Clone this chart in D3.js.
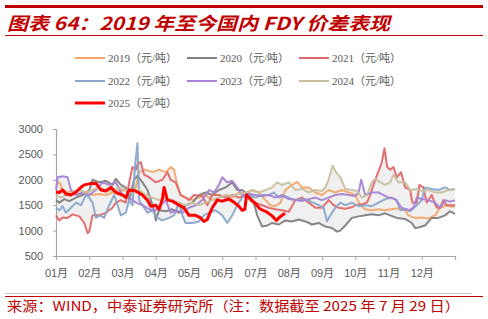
<!DOCTYPE html>
<html><head><meta charset="utf-8">
<script src="https://cdn.jsdelivr.net/npm/d3@7"></script>
<style>body{margin:0;background:#fff;}svg{display:block;}</style>
</head><body>
<svg id="c" width="488" height="319"></svg>
<script>
const monthLabels = ["01月","02月","03月","04月","05月","06月","07月","08月","09月","10月","11月","12月"];
const yTicks = [500,1000,1500,2000,2500,3000];
const years = ["2019","2020","2021","2022","2023","2024","2025"];
const colors = ["#f2a66a","#808080","#e06868","#8aa6cc","#a783d4","#c8c09e","#ff0000"];

// [month position (0 = 1 Jan, 12 = 31 Dec), spread in yuan/ton]
const s2019 = [[0,1900],[0.1,1950],[0.2,1800],[0.35,1750],[0.5,1780],[0.7,1720],[0.9,1750],[1.1,1700],[1.3,1720],[1.5,1700],[1.7,1750],[1.9,1780],[2.1,1800],[2.3,1760],[2.4,1850],[2.5,2150],[2.7,2200],[2.9,2150],[3.1,2200],[3.3,2150],[3.45,2250],[3.55,2200],[3.65,1900],[3.75,1700],[3.9,1650],[4.1,1600],[4.3,1650],[4.5,1700],[4.7,1600],[4.9,1650],[5.1,1700],[5.3,1650],[5.5,1750],[5.7,1700],[5.9,1800],[6.1,1750],[6.3,1600],[6.45,1500],[6.6,1480],[6.75,1550],[6.9,1800],[7.1,1900],[7.25,1960],[7.4,1850],[7.6,1850],[7.8,1750],[8.0,1700],[8.2,1800],[8.4,1750],[8.6,1800],[8.8,1750],[9.0,1700],[9.15,1500],[9.3,1420],[9.5,1400],[9.7,1420],[9.9,1400],[10.1,1420],[10.3,1440],[10.5,1400],[10.6,1300],[10.8,1250],[11.0,1260],[11.2,1240],[11.4,1300],[11.55,1450],[11.75,1500],[11.9,1470],[12,1480]];
const s2020 = [[0,1600],[0.1,1550],[0.25,1620],[0.4,1580],[0.6,1650],[0.8,1700],[1.0,1800],[1.1,2000],[1.3,1950],[1.5,1980],[1.7,1900],[1.8,2020],[1.95,1900],[2.1,1850],[2.2,1600],[2.35,2000],[2.45,2080],[2.6,1950],[2.75,1800],[2.85,1600],[2.95,1400],[3.0,1200],[3.1,1400],[3.3,1380],[3.5,1420],[3.7,1350],[3.9,1500],[4.1,1550],[4.3,1700],[4.5,1750],[4.7,1700],[4.9,1800],[5.1,1850],[5.3,1950],[5.45,1800],[5.6,1800],[5.8,1700],[5.95,1550],[6.05,1300],[6.2,1080],[6.35,1100],[6.5,1150],[6.7,1120],[6.9,1200],[7.1,1180],[7.3,1220],[7.5,1180],[7.7,1120],[7.9,1150],[8.1,1080],[8.3,1050],[8.45,980],[8.55,1000],[8.7,1100],[8.9,1250],[9.1,1280],[9.3,1300],[9.5,1320],[9.7,1300],[9.9,1340],[10.05,1300],[10.25,1250],[10.5,1230],[10.7,1150],[10.8,1050],[10.9,1060],[11.1,1100],[11.3,1250],[11.5,1250],[11.7,1300],[11.85,1380],[12,1330]];
const s2021 = [[0,1300],[0.1,1200],[0.2,1260],[0.35,1250],[0.5,1320],[0.7,1280],[0.85,1150],[0.95,950],[1.0,980],[1.1,1300],[1.3,1300],[1.5,1350],[1.7,1450],[1.8,1550],[1.95,1600],[2.1,1550],[2.2,1950],[2.3,2250],[2.4,2200],[2.45,2300],[2.55,2350],[2.65,2100],[2.8,2050],[3.0,1950],[3.2,2000],[3.35,2150],[3.45,2000],[3.6,1950],[3.75,1700],[3.9,1650],[4.0,1600],[4.15,1700],[4.4,1680],[4.55,1500],[4.7,1700],[4.9,1700],[5.1,1650],[5.3,1700],[5.5,1650],[5.7,1700],[5.85,1650],[6.0,1550],[6.2,1500],[6.4,1450],[6.6,1420],[6.8,1400],[7.0,1370],[7.2,1600],[7.4,1650],[7.6,1550],[7.8,1450],[8.0,1450],[8.2,1600],[8.35,1500],[8.5,1450],[8.7,1430],[8.9,1460],[9.0,1500],[9.2,1520],[9.35,1550],[9.45,1700],[9.6,2000],[9.72,2200],[9.8,2350],[9.88,2620],[9.96,2250],[10.05,2200],[10.15,2250],[10.25,2050],[10.38,2150],[10.5,1850],[10.65,1800],[10.72,1550],[10.85,1550],[10.93,1900],[11.05,1850],[11.15,1550],[11.3,1700],[11.45,1450],[11.55,1450],[11.65,1600],[11.75,1500],[12,1500]];
const s2022 = [[0,1450],[0.1,1400],[0.2,1480],[0.3,1350],[0.45,1450],[0.6,1550],[0.75,1500],[0.9,1700],[1.0,1650],[1.1,1550],[1.2,1250],[1.3,1300],[1.45,1250],[1.6,1500],[1.75,1700],[1.85,1500],[1.95,1300],[2.1,1350],[2.2,1600],[2.3,1500],[2.38,2300],[2.45,2720],[2.5,1600],[2.6,1500],[2.75,1350],[2.9,1400],[3.05,1250],[3.2,1200],[3.4,1250],[3.55,1300],[3.7,1550],[3.8,1300],[3.9,1150],[4.1,1150],[4.3,1180],[4.45,1300],[4.6,1350],[4.8,1400],[5.0,1300],[5.15,1150],[5.3,1300],[5.45,1500],[5.6,1650],[5.8,1700],[6.0,1650],[6.2,1700],[6.4,1700],[6.55,1750],[6.7,1650],[6.9,1680],[7.1,1620],[7.3,1600],[7.5,1620],[7.7,1560],[7.9,1500],[8.05,1450],[8.15,1180],[8.25,1300],[8.4,1450],[8.55,1550],[8.7,1500],[8.9,1550],[9.1,1480],[9.3,1500],[9.5,1480],[9.7,1550],[9.9,1620],[10.1,1650],[10.25,1600],[10.35,1400],[10.55,1420],[10.65,1380],[10.85,1500],[11.0,1600],[11.1,1850],[11.3,1820],[11.5,1800],[11.7,1850],[11.85,1800],[12,1820]];
const s2023 = [[0,1800],[0.05,2050],[0.2,2070],[0.35,2050],[0.45,1800],[0.6,1700],[0.8,1750],[1.0,1700],[1.2,1800],[1.4,1950],[1.6,1900],[1.8,1950],[2.0,1700],[2.2,1650],[2.4,1550],[2.6,1500],[2.8,1420],[3.0,1400],[3.15,1500],[3.3,1600],[3.45,1350],[3.6,1400],[3.8,1350],[4.0,1450],[4.2,1500],[4.4,1600],[4.6,1800],[4.75,1750],[4.9,1900],[5.0,2050],[5.15,1950],[5.3,1980],[5.45,1850],[5.6,1700],[5.8,1720],[6.0,1700],[6.2,1680],[6.4,1700],[6.6,1650],[6.8,1700],[7.0,1620],[7.2,1600],[7.4,1580],[7.6,1620],[7.8,1650],[8.0,1600],[8.2,1650],[8.4,1700],[8.6,1720],[8.8,1700],[9.0,1680],[9.1,1750],[9.18,2000],[9.3,1700],[9.5,1750],[9.7,1750],[9.85,1700],[10.0,1650],[10.2,1620],[10.4,1450],[10.6,1400],[10.75,1450],[10.85,1650],[11.0,1620],[11.2,1600],[11.4,1550],[11.55,1450],[11.7,1600],[11.85,1570],[12,1600]];
const s2024 = [[0,1700],[0.15,1650],[0.3,1700],[0.5,1750],[0.7,1800],[0.9,1750],[1.1,1800],[1.3,1850],[1.5,1800],[1.7,1780],[1.9,1850],[2.1,1800],[2.3,1750],[2.5,1800],[2.7,1700],[2.9,1650],[3.1,1600],[3.3,1650],[3.5,1600],[3.7,1550],[3.9,1500],[4.1,1550],[4.3,1500],[4.5,1550],[4.7,1600],[4.9,1650],[5.1,1700],[5.3,1680],[5.5,1720],[5.7,1750],[5.9,1800],[6.1,1750],[6.3,1800],[6.5,1850],[6.65,1950],[6.8,1900],[7.0,1950],[7.2,1800],[7.4,1820],[7.6,1750],[7.8,1800],[8.0,1780],[8.1,1850],[8.2,2000],[8.32,2280],[8.42,2150],[8.55,2050],[8.7,1820],[8.9,1800],[9.05,1780],[9.2,1650],[9.35,1700],[9.5,1950],[9.6,2020],[9.75,1950],[9.9,1900],[10.05,1950],[10.15,2100],[10.3,1950],[10.5,1950],[10.65,1800],[10.85,1820],[11.0,1780],[11.2,1800],[11.4,1750],[11.6,1750],[11.8,1800],[12,1820]];
const s2025 = [[0,1760],[0.1,1750],[0.2,1800],[0.3,1720],[0.45,1700],[0.6,1760],[0.75,1850],[0.85,1900],[1.0,1920],[1.2,1930],[1.35,1800],[1.5,1780],[1.65,1850],[1.8,1750],[2.0,1700],[2.1,1650],[2.2,1800],[2.4,1780],[2.6,1700],[2.75,1600],[2.85,1480],[3.0,1500],[3.1,1420],[3.2,1620],[3.25,1850],[3.35,1600],[3.5,1580],[3.7,1500],[3.85,1450],[4.0,1300],[4.2,1300],[4.35,1250],[4.45,1180],[4.55,1220],[4.6,1300],[4.7,1450],[4.85,1600],[5.0,1580],[5.2,1620],[5.35,1560],[5.5,1480],[5.6,1400],[5.68,1420],[5.73,1700],[5.8,1650],[5.9,1580],[6.0,1530],[6.13,1430],[6.33,1370],[6.5,1290],[6.63,1200],[6.73,1270],[6.89,1340]];

const series = [s2019,s2020,s2021,s2022,s2023,s2024,s2025];

const svg = d3.select("#c");
const red = "#c00000";

// header
svg.append("rect").attr("x",5).attr("y",5).attr("width",478).attr("height",3).attr("fill",red);
svg.append("text").attr("x",7).attr("y",30)
  .attr("font-family","'Noto Sans CJK SC',sans-serif").attr("font-size",18)
  .attr("font-weight","bold").attr("font-style","italic").attr("fill",red)
  .attr("textLength",383).attr("lengthAdjust","spacingAndGlyphs")
  .text("图表 64：2019 年至今国内 FDY 价差表现");
svg.append("line").attr("x1",5).attr("x2",483).attr("y1",35.5).attr("y2",35.5).attr("stroke",red).attr("stroke-width",1);

// scales
const x = d3.scaleLinear().domain([0,12]).range([56,455]);
const y = d3.scaleLinear().domain([500,3000]).range([256,129]);

// band of historical min/max
const hist = series.slice(0,6);
function interp(s, m){
  for(let i=1;i<s.length;i++){
    if(m<=s[i][0]){const a=s[i-1],b=s[i];const t=(m-a[0])/(b[0]-a[0]);return a[1]+t*(b[1]-a[1]);}
  }
  return s[s.length-1][1];
}
const grid = d3.range(0,12.0001,0.02);
const band = grid.map(m=>{const v=hist.map(s=>interp(s,m));return [m,d3.min(v),d3.max(v)];});
svg.append("path").datum(band)
  .attr("d",d3.area().x(d=>x(d[0])).y0(d=>y(d[1])).y1(d=>y(d[2])))
  .attr("fill","#f0f0f0");

// axes
const axisColor = "#a6a6a6";
const gy = svg.append("g").attr("transform","translate(56,0)")
  .call(d3.axisLeft(y).tickValues(yTicks).tickSize(3).tickPadding(10).tickFormat(d3.format("d")));
const gx = svg.append("g").attr("transform","translate(0,256)")
  .call(d3.axisBottom(x).tickValues(d3.range(0,13)).tickSize(4).tickPadding(9).tickFormat(d=>monthLabels[d]||""));
[gx,gy].forEach(g=>{
  g.select(".domain").attr("stroke",axisColor).attr("stroke-width",1.2);
  g.selectAll(".tick line").attr("stroke",axisColor);
  g.selectAll("text").attr("fill","#595959").attr("font-size",11)
    .attr("font-family","'Liberation Sans','Noto Sans CJK SC',sans-serif");
});

// lines
const line = d3.line().x(d=>x(d[0])).y(d=>y(d[1]));
series.forEach((s,i)=>{
  svg.append("path").datum(s).attr("d",line).attr("fill","none")
    .attr("stroke",colors[i]).attr("stroke-width", i===6?3:2)
    .attr("stroke-linejoin","round").attr("opacity", i===6?1:0.95);
});

// legend
const legX = [75,187,299], legY = [58,81,103];
years.forEach((yr,i)=>{
  const cx = legX[i%3], cy = legY[Math.floor(i/3)];
  svg.append("line").attr("x1",cx).attr("x2",cx+30).attr("y1",cy).attr("y2",cy)
    .attr("stroke",colors[i]).attr("stroke-width", i===6?3:2);
  svg.append("text").attr("x",cx+33).attr("y",cy+4)
    .attr("font-family","'Liberation Serif','Noto Sans CJK SC',serif").attr("font-size",11)
    .attr("fill","#595959").text(yr+"（元/吨）");
});

// footer
svg.append("line").attr("x1",5).attr("x2",472).attr("y1",293.5).attr("y2",293.5).attr("stroke","#c8c8c8").attr("stroke-width",1);
svg.append("line").attr("x1",5).attr("x2",483).attr("y1",296.5).attr("y2",296.5).attr("stroke",red).attr("stroke-width",1.2);
svg.append("text").attr("x",7).attr("y",311)
  .attr("font-family","'Noto Sans CJK SC',sans-serif").attr("font-size",13.5).attr("fill",red)
  .attr("textLength",453).attr("lengthAdjust","spacingAndGlyphs")
  .text("来源：WIND，中泰证券研究所（注：数据截至 2025 年 7 月 29 日）");
</script>
</body></html>
